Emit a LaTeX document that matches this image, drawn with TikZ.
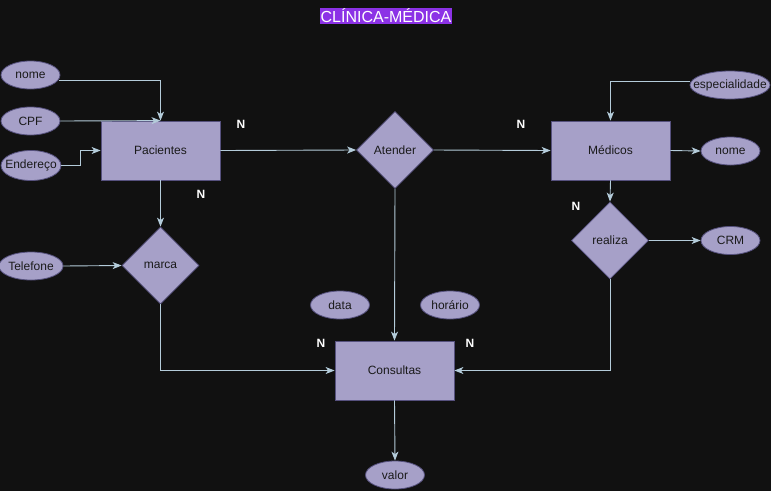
\documentclass[tikz,border=0pt]{standalone}
\usepackage{fontspec}
\setmainfont{Liberation Sans}
\usetikzlibrary{shapes.geometric,arrows.meta,calc}
\definecolor{bg}{HTML}{111111}
\definecolor{shapefill}{HTML}{A6A0C8}
\definecolor{shapeline}{HTML}{56517E}
\definecolor{edgecol}{HTML}{B4CCDA}
\definecolor{titlebg}{HTML}{8C32E6}
\definecolor{txt}{HTML}{1A1A1A}
\begin{document}
\begin{tikzpicture}[x=1pt,y=-1pt,
  every node/.style={font=\fontsize{12}{14}\selectfont, text=txt},
  entity/.style={draw=shapeline, fill=shapefill, line width=0.8pt, minimum width=119pt, minimum height=59pt, inner sep=0pt},
  attr/.style={ellipse, draw=shapeline, fill=shapefill, line width=0.8pt, minimum width=59pt, minimum height=28pt, inner sep=0pt},
  rel/.style={diamond, draw=shapeline, fill=shapefill, line width=0.8pt, minimum width=77pt, minimum height=77pt, inner sep=0pt},
  arr/.style={draw=edgecol, line width=0.9pt, -{Stealth[length=9pt,width=7pt,inset=2.5pt]}},
  card/.style={text=white, font=\fontsize{12}{14}\selectfont\bfseries}
]
\fill[bg] (0,0) rectangle (771,491);
\useasboundingbox (0,0) rectangle (771,491);

\node[fill=titlebg, text=white, inner xsep=1pt, inner ysep=1pt, font=\fontsize{16}{18}\selectfont] (title) at (386,16) {CLÍNICA-MÉDICA};

% entities
\node[entity] (pac) at (160.5,150.5) {Pacientes};
\node[entity] (med) at (610.5,150.5) {Médicos};
\node[entity] (con) at (394.5,370.5) {Consultas};

% relationships
\node[rel] (ate) at (395,150) {Atender};
\node[rel] (mar) at (160.5,265.5) {marca};
\node[rel] (rea) at (610,240.5) {realiza};

% attributes
\node[attr] (nome1) at (30.5,75) {nome};
\node[attr] (cpf) at (30.5,121) {CPF};
\node[attr, minimum width=60pt, minimum height=30pt] (end) at (31,165.5) {};
\node (endtxt) at (end) {Endereço};
\node[attr] (tel) at (31,266) {Telefone};
\node[attr, minimum width=80pt] (esp) at (730,85) {};
\node (esptxt) at (esp) {especialidade};
\node[attr] (nome2) at (730.5,151) {nome};
\node[attr] (crm) at (730.5,240.5) {CRM};
\node[attr] (data) at (340,305) {data};
\node[attr] (hor) at (450,305) {horário};
\node[attr] (val) at (395,475) {valor};

% connectors
\draw[arr] ($(nome1.east)+(-1.5,5.5)$) -| (pac.north);
\draw[arr] (cpf.east) -- (pac.north);
\draw[arr] (end.east) -- ++(19,0) |- (pac.west);
\draw[arr] (pac.east) -- (ate.west);
\draw[arr] (ate.east) -- (med.west);
\draw[arr] ($(esp.west)+(0.5,-4)$) -| (med.north);
\draw[arr] (med.east) -- (nome2.west);
\draw[arr] (med.south) -- (rea.north);
\draw[arr] (rea.east) -- (crm.west);
\draw[arr] (rea.south) |- (con.east);
\draw[arr] (ate.south) -- (con.north);
\draw[arr] (pac.south) -- (mar.north);
\draw[arr] (tel.east) -- (mar.west);
\draw[arr] (mar.south) |- (con.west);
\draw[arr] (con.south) -- (val.north);

% cardinalities
\node[card] (n1) at (241,124) {N};
\node[card] (n2) at (201,194) {N};
\node[card] (n3) at (521,124) {N};
\node[card] (n4) at (576,206) {N};
\node[card] (n5) at (321,343) {N};
\node[card] (n6) at (470,343) {N};
\end{tikzpicture}
\end{document}
